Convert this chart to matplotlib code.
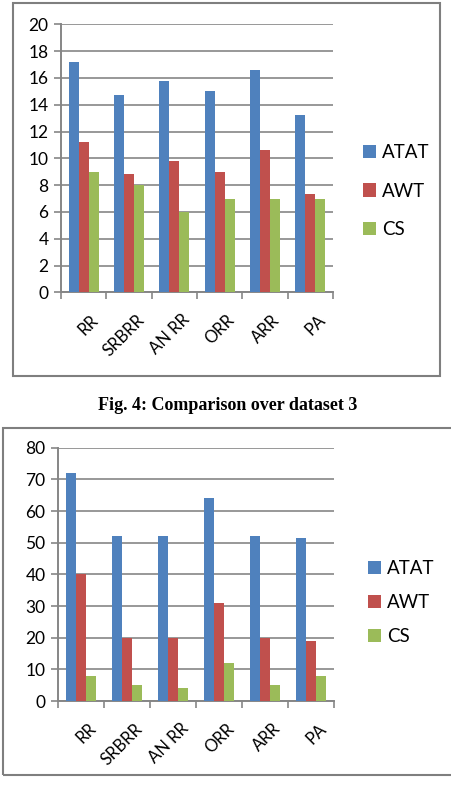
import numpy as np
import matplotlib
matplotlib.use('Agg')
import matplotlib.pyplot as plt
from matplotlib.patches import Rectangle

categories = ['RR', 'SRBRR', 'AN RR', 'ORR', 'ARR', 'PA']
series = ['ATAT', 'AWT', 'CS']
colors = ['#4F81BD', '#C0504D', '#9BBB59']

# top chart
top_atat = [17.2, 14.7, 15.8, 15.0, 16.6, 13.2]
top_awt = [11.2, 8.8, 9.8, 9.0, 10.6, 7.3]
top_cs = [9, 8, 6, 7, 7, 7]

# bottom chart
bot_atat = [72, 52, 52, 64, 52, 51.4]
bot_awt = [40, 20, 20, 31, 20, 19]
bot_cs = [8, 5, 4, 12, 5, 8]

caption = 'Fig. 4: Comparison over dataset 3'

plt.rcParams['font.family'] = ['Lato', 'DejaVu Sans']
W, H = 451, 795
fig = plt.figure(figsize=(W / 100, H / 100), dpi=100)
grid_c = '#868686'


def px(x, y, w, h):
    return [x / W, 1 - (y + h) / H, w / W, h / H]


def draw(rect, data, ymax, step, leg_xy, spacing):
    ax = fig.add_axes(rect)
    x = np.arange(len(categories))
    bw = 1 / 4.5
    for i, (vals, c, name) in enumerate(zip(data, colors, series)):
        ax.bar(x + (i - 1) * bw, vals, bw, color=c, label=name, zorder=3)
    ax.set_xlim(-0.5, len(categories) - 0.5)
    ax.set_ylim(0, ymax)
    ax.set_yticks(np.arange(0, ymax + 1, step))
    ax.yaxis.grid(True, color=grid_c, linewidth=1.2, zorder=0)
    ax.set_xticks(x + 0.15)
    ax.set_xticklabels(categories, rotation=45, ha='right', va='top',
                       rotation_mode='anchor', fontsize=12)
    ax.set_xticks(np.arange(-0.5, len(categories)), minor=True)
    ax.tick_params(axis='x', which='major', length=0, pad=14)
    ax.tick_params(axis='x', which='minor', length=5, color=grid_c, width=1.2)
    ax.tick_params(axis='y', length=5, color=grid_c, width=1.2, labelsize=12.5, pad=4)
    for s in ['top', 'right']:
        ax.spines[s].set_visible(False)
    for s in ['left', 'bottom']:
        ax.spines[s].set_color(grid_c)
        ax.spines[s].set_linewidth(1.4)
    fig.legend(*ax.get_legend_handles_labels(), loc='upper left',
               bbox_to_anchor=(leg_xy[0] / W, 1 - leg_xy[1] / H),
               frameon=False, fontsize=13.5, borderpad=0, borderaxespad=0,
               handlelength=0.7, handleheight=0.7, handletextpad=0.3,
               labelspacing=spacing)
    return ax


draw(px(61, 24.3, 272, 268), [top_atat, top_awt, top_cs], 20, 2, (363, 144), 1.15)
draw(px(58, 447.7, 276, 253.3), [bot_atat, bot_awt, bot_cs], 80, 10, (368, 560), 0.9)

fig.add_artist(Rectangle((13 / W, 1 - 376 / H), 427 / W, 373 / H, transform=fig.transFigure,
                         fill=False, edgecolor='#7f7f7f', linewidth=1.5))
fig.add_artist(Rectangle((3 / W, 1 - 775 / H), 460 / W, 347 / H, transform=fig.transFigure,
                         fill=False, edgecolor='#7f7f7f', linewidth=1.5))
fig.text(228 / W, 1 - 406 / H, caption, ha='center', va='center', fontsize=13,
         fontweight='bold', family='Liberation Serif')

fig.savefig('out.png', dpi=100)
